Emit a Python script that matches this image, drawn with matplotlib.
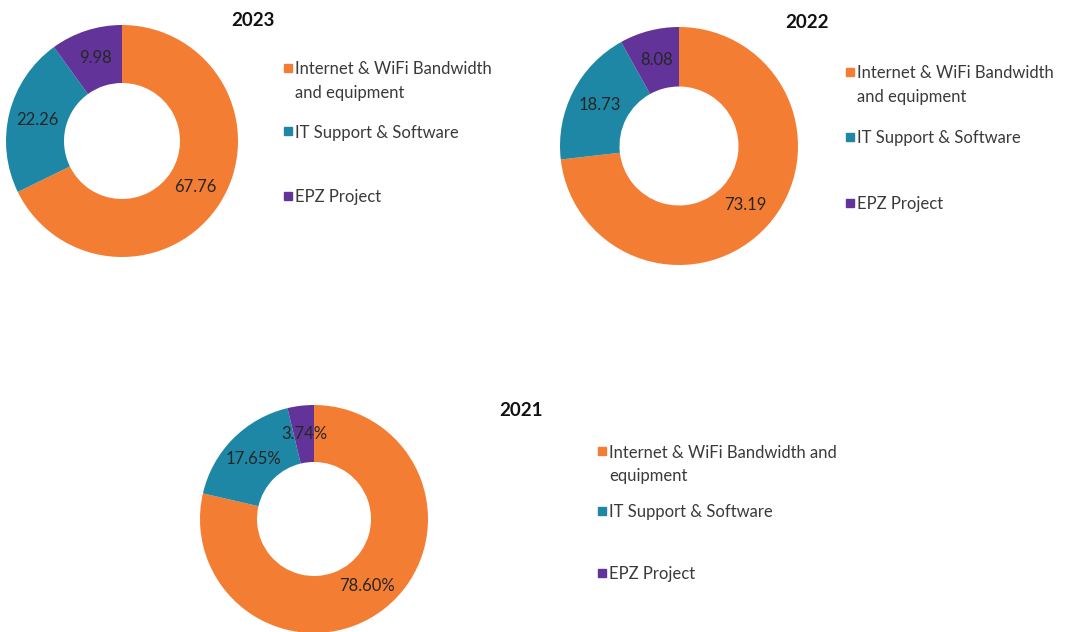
#!/usr/bin/env python3
import textwrap
import numpy as np
import matplotlib
matplotlib.use('Agg')
import matplotlib.pyplot as plt
from matplotlib.patches import Rectangle

# Datos de los tres graficos de anillo
categorias = ['Internet & WiFi Bandwidth and equipment',
              'IT Support & Software',
              'EPZ Project']
anios = ['2023', '2022', '2021']
valores_2023 = [67.76, 22.26, 9.98]
valores_2022 = [73.19, 18.73, 8.08]
valores_2021 = [78.60, 17.65, 3.74]
etiquetas_2023 = ['67.76', '22.26', '9.98']
etiquetas_2022 = ['73.19', '18.73', '8.08']
etiquetas_2021 = ['78.60%', '17.65%', '3.74%']

colores = ['#F47D34', '#1F87A6', '#623398']

W, H = 1073, 632
plt.rcParams['font.family'] = ['Lato', 'DejaVu Sans']

fig = plt.figure(figsize=(W / 100, H / 100), dpi=100)
fig.patch.set_facecolor('white')


def fx(x):
    return x / W


def fy(y):
    return 1 - y / H


def anillo(valores, etiquetas, cx, cy, r):
    ax = fig.add_axes([fx(cx - r), fy(cy + r), 2 * r / W, 2 * r / H])
    wedges, _ = ax.pie(valores, colors=colores, startangle=90, counterclock=False,
                       radius=1.0, wedgeprops=dict(width=0.5, linewidth=0))
    ax.set_xlim(-1, 1)
    ax.set_ylim(-1, 1)
    ax.set_aspect('equal')
    # etiquetas en el centro del anillo de cada porcion
    for w, txt in zip(wedges, etiquetas):
        ang = np.deg2rad((w.theta1 + w.theta2) / 2)
        ax.text(0.75 * np.cos(ang), 0.75 * np.sin(ang), txt, ha='center', va='center',
                fontsize=12, color='#262626')
    return ax


def leyenda(x, ys, ancho):
    # ys: linea base de la primera linea de cada entrada (en pixeles)
    for nombre, color, y in zip(categorias, colores, ys):
        fig.patches.append(Rectangle((fx(x), fy(y - 2)), 8 / W, 8 / H,
                                     transform=fig.transFigure, color=color))
        fig.text(fx(x + 11), fy(y - 12.5), textwrap.fill(nombre, ancho), ha='left',
                 va='top', fontsize=12, color='#3a3a3a', linespacing=1.58)


def titulo(texto, x, y):
    fig.text(fx(x), fy(y), texto, ha='center', va='center', fontsize=13.5,
             fontweight='bold', color='#111111')


anillo(valores_2023, etiquetas_2023, 122, 141, 116)
titulo(anios[0], 253, 20)
leyenda(284, [74, 137, 202], 25)

anillo(valores_2022, etiquetas_2022, 679, 146, 119)
titulo(anios[1], 807, 23)
leyenda(846, [78, 143, 209], 25)

anillo(valores_2021, etiquetas_2021, 314, 519, 114)
titulo(anios[2], 521, 410)
leyenda(598, [457, 517, 579], 29)

fig.savefig('out.png', dpi=100, facecolor='white')
